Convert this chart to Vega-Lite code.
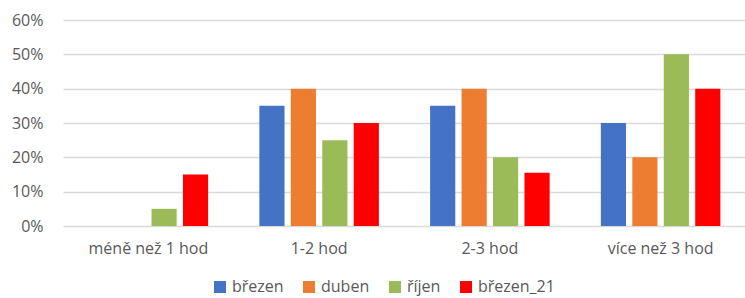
{
  "$schema": "https://vega.github.io/schema/vega-lite/v6.json",
  "width": 683,
  "height": 206,
  "autosize": {"type": "none"},
  "padding": {"left": 63, "top": 20, "right": 0, "bottom": 72},
  "background": "white",
  "config": {
    "view": {"stroke": null},
    "font": "Open Sans",
    "axis": {"labelColor": "#595959", "labelFontSize": 16, "labelFont": "Open Sans"},
    "legend": {"labelColor": "#595959", "labelFontSize": 16, "labelFont": "Open Sans"}
  },
  "data": {
    "values": [
      {"cat": "méně než 1 hod", "series": "březen", "value": 0},
      {"cat": "méně než 1 hod", "series": "duben", "value": 0},
      {"cat": "méně než 1 hod", "series": "říjen", "value": 0.05},
      {"cat": "méně než 1 hod", "series": "březen_21", "value": 0.15},
      {"cat": "1-2 hod", "series": "březen", "value": 0.35},
      {"cat": "1-2 hod", "series": "duben", "value": 0.40},
      {"cat": "1-2 hod", "series": "říjen", "value": 0.25},
      {"cat": "1-2 hod", "series": "březen_21", "value": 0.30},
      {"cat": "2-3 hod", "series": "březen", "value": 0.35},
      {"cat": "2-3 hod", "series": "duben", "value": 0.40},
      {"cat": "2-3 hod", "series": "říjen", "value": 0.20},
      {"cat": "2-3 hod", "series": "březen_21", "value": 0.155},
      {"cat": "více než 3 hod", "series": "březen", "value": 0.30},
      {"cat": "více než 3 hod", "series": "duben", "value": 0.20},
      {"cat": "více než 3 hod", "series": "říjen", "value": 0.50},
      {"cat": "více než 3 hod", "series": "březen_21", "value": 0.40}
    ]
  },
  "mark": {"type": "bar"},
  "encoding": {
    "x": {
      "field": "cat",
      "type": "nominal",
      "sort": ["méně než 1 hod", "1-2 hod", "2-3 hod", "více než 3 hod"],
      "scale": {"paddingInner": 0.3, "paddingOuter": 0.15},
      "axis": {"title": null, "labelAngle": 0, "ticks": false, "domain": false, "labelPadding": 14}
    },
    "xOffset": {
      "field": "series",
      "type": "nominal",
      "sort": ["březen", "duben", "říjen", "březen_21"],
      "scale": {"paddingInner": 0.2, "paddingOuter": 0}
    },
    "y": {
      "field": "value",
      "type": "quantitative",
      "scale": {"domain": [0, 0.6]},
      "axis": {
        "title": null,
        "format": ".0%",
        "values": [0, 0.1, 0.2, 0.3, 0.4, 0.5, 0.6],
        "ticks": false,
        "domain": false,
        "labelPadding": 20,
        "gridColor": "#d9d9d9",
        "gridWidth": 1.5
      }
    },
    "color": {
      "field": "series",
      "type": "nominal",
      "sort": ["březen", "duben", "říjen", "březen_21"],
      "scale": {
        "domain": ["březen", "duben", "říjen", "březen_21"],
        "range": ["#4472C4", "#ED7D31", "#9BBB59", "#FF0000"]
      },
      "legend": {
        "title": null,
        "orient": "none",
        "direction": "horizontal",
        "legendX": 149,
        "legendY": 259,
        "symbolType": "square",
        "symbolSize": 144,
        "symbolStrokeWidth": 0,
        "columnPadding": 17,
        "labelOffset": 4
      }
    }
  }
}
